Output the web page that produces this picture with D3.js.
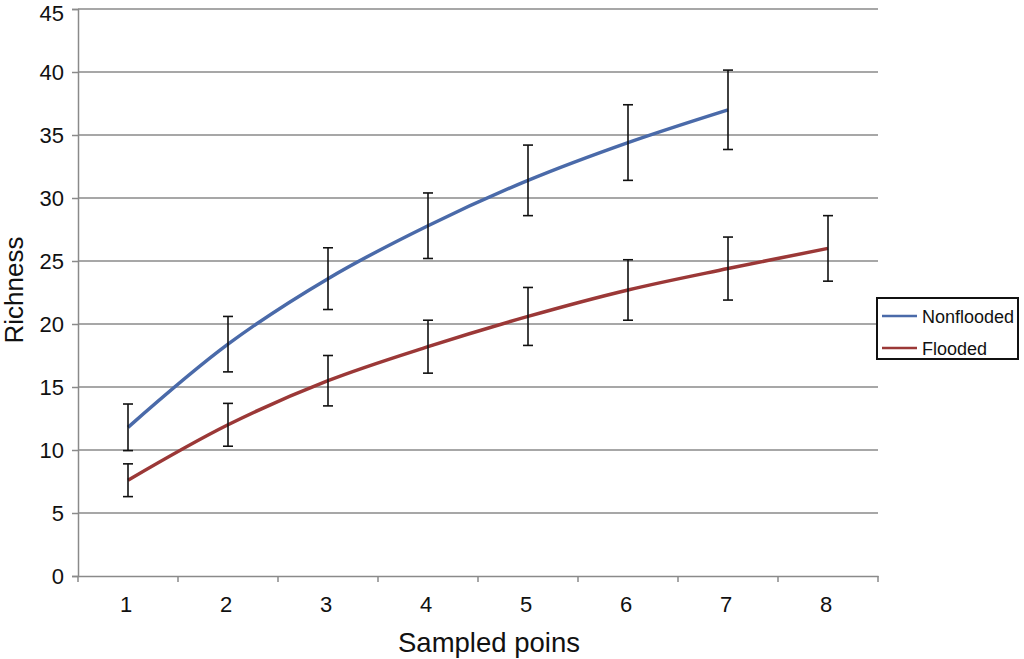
<!DOCTYPE html>
<html><head><meta charset="utf-8">
<script src="https://cdn.jsdelivr.net/npm/d3@7"></script>
<style>body{margin:0;background:#fff}svg{display:block}text{font-family:"Liberation Sans",Arial,sans-serif;fill:#111}</style>
</head><body>
<script>
const categories = [1,2,3,4,5,6,7,8];
const nonfloodedMean = [11.8,18.4,23.6,27.8,31.4,34.4,37.0];
const nonfloodedErr  = [1.85,2.2,2.45,2.6,2.8,3.0,3.15];
const floodedMean = [7.6,12.0,15.5,18.2,20.6,22.7,24.4,26.0];
const floodedErr  = [1.3,1.7,2.0,2.1,2.3,2.4,2.5,2.6];
const yTicks = [0,5,10,15,20,25,30,35,40,45];
const seriesNames = ["Nonflooded","Flooded"];
const colors = ["#4a6aa9","#9b3837"];

const W=1024,H=659;
const m={left:78,right:146,top:9,bottom:83};
const svg=d3.select("body").append("svg").attr("width",W).attr("height",H);
const x=d3.scaleBand().domain(categories).range([m.left,W-m.right]);
const y=d3.scaleLinear().domain([0,45]).range([H-m.bottom,m.top]);

// gridlines
svg.append("g").selectAll("line").data(yTicks.filter(d=>d>0)).join("line")
  .attr("x1",m.left).attr("x2",W-m.right).attr("y1",d=>y(d)).attr("y2",d=>y(d))
  .attr("stroke","#8a8a8a").attr("stroke-width",1.5);

// y axis
const ya=svg.append("g").attr("transform",`translate(${m.left},0)`)
  .call(d3.axisLeft(y).tickValues(yTicks).tickSize(6).tickPadding(8));
ya.select(".domain").attr("stroke","#8a8a8a").attr("stroke-width",1.5);
ya.selectAll(".tick line").attr("stroke","#8a8a8a").attr("stroke-width",1.5);
ya.selectAll("text").attr("font-size",22).attr("fill","#111").attr("font-family","Liberation Sans, Arial, sans-serif")
  .attr("dy",d=>d===45?"0.5em":"0.32em");

// x axis
const xa=svg.append("g").attr("transform",`translate(0,${H-m.bottom})`)
  .call(d3.axisBottom(x).tickSize(0).tickPadding(20));
xa.select(".domain").attr("stroke","#8a8a8a").attr("stroke-width",1.5);
xa.selectAll("text").attr("font-size",22).attr("fill","#111").attr("font-family","Liberation Sans, Arial, sans-serif")
  .attr("dx","-2");
const bounds=categories.map(c=>x(c)).concat([x(categories[categories.length-1])+x.bandwidth()]);
svg.append("g").selectAll("line").data(bounds).join("line")
  .attr("x1",d=>d).attr("x2",d=>d).attr("y1",H-m.bottom).attr("y2",H-m.bottom+6)
  .attr("stroke","#8a8a8a").attr("stroke-width",1.5);

const cx=c=>x(c)+x.bandwidth()/2;
const series=[
  {name:seriesNames[0],mean:nonfloodedMean,err:nonfloodedErr,color:colors[0]},
  {name:seriesNames[1],mean:floodedMean,err:floodedErr,color:colors[1]}
];
const line=d3.line().x(d=>cx(d.c)).y(d=>y(d.v)).curve(d3.curveCatmullRom.alpha(0.5));
series.forEach(s=>{
  const pts=s.mean.map((v,i)=>({c:categories[i],v,e:s.err[i]}));
  svg.append("path").datum(pts).attr("d",line).attr("fill","none")
    .attr("stroke",s.color).attr("stroke-width",3.5);
  const g=svg.append("g").attr("stroke","#111").attr("stroke-width",1.6);
  pts.forEach(p=>{
    const X=cx(p.c);
    g.append("line").attr("x1",X).attr("x2",X).attr("y1",y(p.v-p.e)).attr("y2",y(p.v+p.e));
    g.append("line").attr("x1",X-5).attr("x2",X+5).attr("y1",y(p.v-p.e)).attr("y2",y(p.v-p.e));
    g.append("line").attr("x1",X-5).attr("x2",X+5).attr("y1",y(p.v+p.e)).attr("y2",y(p.v+p.e));
  });
});

// axis titles
svg.append("text").attr("x",489).attr("y",652).attr("text-anchor","middle").attr("font-size",27.5).text("Sampled poins");
svg.append("text").attr("transform","translate(23,290) rotate(-90)").attr("text-anchor","middle").attr("font-size",26).text("Richness");

// legend
const lg=svg.append("g");
lg.append("rect").attr("x",877).attr("y",298).attr("width",141).attr("height",61)
  .attr("fill","#fff").attr("stroke","#111").attr("stroke-width",2);
series.forEach((s,i)=>{
  const yy=316+i*32;
  lg.append("line").attr("x1",882).attr("x2",917).attr("y1",yy).attr("y2",yy).attr("stroke",s.color).attr("stroke-width",2.5);
  lg.append("text").attr("x",922).attr("y",yy+6.5).attr("font-size",18).text(s.name);
});
</script>
</body></html>
